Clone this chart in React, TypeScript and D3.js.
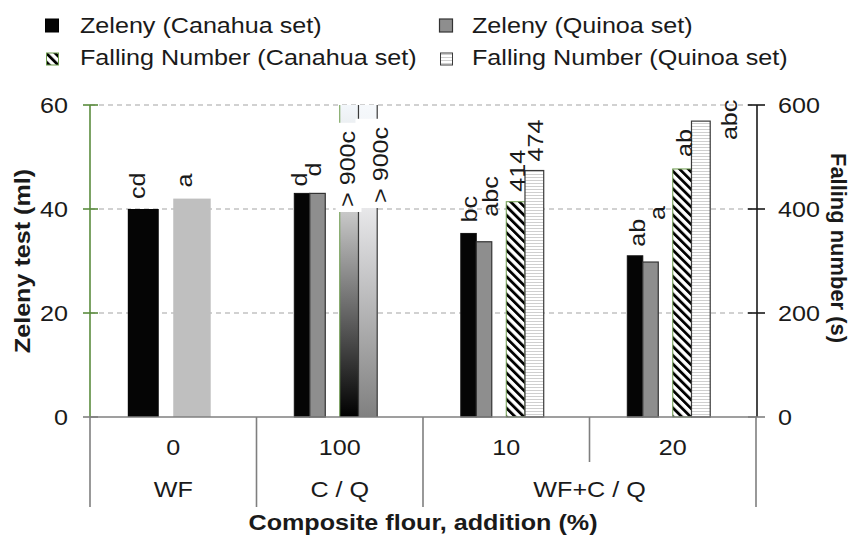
import React from "react";
import * as d3 from "d3";

// ---------- data ----------
const categories = ["0", "100", "10", "20"];
const groupLabels = ["WF", "C / Q", "WF+C / Q"];
const groupSpans = [1, 1, 2]; // number of categories per group

// wheat flour (category "0"): one Zeleny bar and one falling-number bar
const wfZeleny = [40];
const wfFallingNumber = [420];
const wfZelenyLabels = ["cd"];
const wfFallingLabels = ["a"];

// composite flours (categories "100", "10", "20")
const zelenyCanahua = [43, 35.3, 31.0];
const zelenyQuinoa = [43, 33.7, 29.8];
const fallingCanahua = [900, 414, 477];
const fallingQuinoa = [900, 474, 569];
const zelenyCanahuaLabels = ["d", "bc", "ab"];
const zelenyQuinoaLabels = ["d", "abc", "a"];
const fallingCanahuaLabels = ["> 900c", "414", "ab"];
const fallingQuinoaLabels = ["> 900c", "474", "abc"];

const zelenyTicks = [0, 20, 40, 60];
const fallingTicks = [0, 200, 400, 600];

// label nudges [dx from bar centre, rise above bar top] (px)
const wfZNudge = [[2, 10]];
const wfFNudge = [[0, 11]];
const zcNudge = [[4.5, 7], [8.5, 11], [10, 9]];
const zqNudge = [[3.5, 17], [13.5, 25], [14.5, 42]];
const fcNudge = [[5.5, -102], [9, 10], [10, 12]];
const fqNudge = [[20, -98], [9, 9], [36, -19]];

// ---------- layout ----------
const W = 850, H = 539;
const L = 90, R = 756, TOP = 105, BOT = 417;
const FS = 21.5, SX = 1.17;
const TXT = "#1a1a1a";
const FONT = "'Liberation Sans', Arial, sans-serif";

function T({ x, y, rot = 0, anchor = "start", bold = false, children, fill = TXT, sx = SX }: any) {
  return (
    <text
      transform={`translate(${x},${y}) rotate(${rot}) scale(${sx},1)`}
      textAnchor={anchor}
      fontFamily={FONT}
      fontSize={FS}
      fontWeight={bold ? "bold" : "normal"}
      fill={fill}
    >
      {children}
    </text>
  );
}

export default function App() {
  const x0 = d3.scaleBand<string>().domain(categories).range([L, R]).paddingInner(0).paddingOuter(0);
  const bw = x0.bandwidth();
  const inner = d3.scaleLinear().domain([0, 1]).range([0, bw]);
  const zSlot = [inner(0.227), inner(0.413)];
  const fSlot = [inner(0.5), inner(0.725)];
  const yL = d3.scaleLinear().domain([0, 60]).range([BOT, TOP]);
  const yR = d3.scaleLinear().domain([0, 600]).range([BOT, TOP]).clamp(true);

  type Bar = { x: number; w: number; y: number; fill: string; stroke: string; sw: number; label: string; nudge: number[]; off?: boolean };
  const bars: Bar[] = [];

  // WF
  {
    const b = x0(categories[0])!;
    bars.push({ x: b + zSlot[0], w: zSlot[1] - zSlot[0], y: yL(wfZeleny[0]), fill: "#050505", stroke: "none", sw: 0, label: wfZelenyLabels[0], nudge: wfZNudge[0] });
    bars.push({ x: b + fSlot[0], w: fSlot[1] - fSlot[0], y: yR(wfFallingNumber[0]), fill: "#bfbfbf", stroke: "none", sw: 0, label: wfFallingLabels[0], nudge: wfFNudge[0] });
  }
  categories.slice(1).forEach((c, i) => {
    const b = x0(c)!;
    const zw = (zSlot[1] - zSlot[0]) / 2;
    const fw = (fSlot[1] - fSlot[0]) / 2;
    const offC = fallingCanahua[i] > 600;
    const offQ = fallingQuinoa[i] > 600;
    bars.push({ x: b + zSlot[0], w: zw, y: yL(zelenyCanahua[i]), fill: "#050505", stroke: "#111", sw: 1, label: zelenyCanahuaLabels[i], nudge: zcNudge[i] });
    bars.push({ x: b + zSlot[0] + zw, w: zw, y: yL(zelenyQuinoa[i]), fill: "#8e8e8e", stroke: "#333", sw: 1.2, label: zelenyQuinoaLabels[i], nudge: zqNudge[i] });
    bars.push({ x: b + fSlot[0], w: fw, y: yR(fallingCanahua[i]), fill: offC ? "url(#gradC)" : "url(#hatch)", stroke: "#6b9a4b", sw: 1, label: fallingCanahuaLabels[i], nudge: fcNudge[i], off: offC });
    bars.push({ x: b + fSlot[0] + fw, w: fw, y: yR(fallingQuinoa[i]), fill: offQ ? "url(#gradQ)" : "url(#stripe)", stroke: "#3a3a3a", sw: 1.2, label: fallingQuinoaLabels[i], nudge: fqNudge[i], off: offQ });
  });

  // group separators
  const bounds: { x: number; long: boolean }[] = [{ x: L, long: true }];
  let acc = 0;
  groupSpans.forEach((s) => {
    for (let k = 1; k < s; k++) bounds.push({ x: x0(categories[acc + k])!, long: false });
    acc += s;
    bounds.push({ x: acc < categories.length ? x0(categories[acc])! : R, long: true });
  });
  const groupCenters: number[] = [];
  acc = 0;
  groupSpans.forEach((s) => {
    const a = x0(categories[acc])!;
    const e = x0(categories[acc + s - 1])! + bw;
    groupCenters.push((a + e) / 2);
    acc += s;
  });

  const labelLen = (s: string) => s.length * FS * 0.505 * SX;

  return (
    <svg width={W} height={H} style={{ position: "absolute", left: 0, top: 0, background: "#fff" }}>
      <defs>
        <pattern id="hatch" patternUnits="userSpaceOnUse" width="6.2" height="6.2" patternTransform="rotate(-45)">
          <rect width="6.2" height="6.2" fill="#fff" />
          <rect width="2.8" height="6.2" fill="#000" />
        </pattern>
        <pattern id="stripe" patternUnits="userSpaceOnUse" width="4" height="3">
          <rect width="4" height="3" fill="#fff" />
          <rect y="0" width="4" height="1" fill="#cfcfcf" />
        </pattern>
        <linearGradient id="gradC" x1="0" y1="0" x2="0" y2="1">
          <stop offset="0" stopColor="#f3f7fb" />
          <stop offset="0.34" stopColor="#c9c9c9" />
          <stop offset="1" stopColor="#000" />
        </linearGradient>
        <linearGradient id="gradQ" x1="0" y1="0" x2="0" y2="1">
          <stop offset="0" stopColor="#f6f9fc" />
          <stop offset="0.33" stopColor="#e8e8ea" />
          <stop offset="1" stopColor="#808080" />
        </linearGradient>
      </defs>

      {/* legend */}
      <rect x={45.5} y={19} width={13} height={13} fill="#050505" stroke="#000" />
      <T x={80} y={33}>Zeleny (Canahua set)</T>
      <rect x={439.5} y={19} width={13} height={13} fill="#8e8e8e" stroke="#333" strokeWidth={1.2} />
      <T x={472} y={33}>Zeleny (Quinoa set)</T>
      <rect x={46.5} y={53} width={12} height={12} fill="url(#hatch)" stroke="#6b9a4b" />
      <T x={80} y={65}>Falling Number (Canahua set)</T>
      <rect x={440.5} y={53} width={12} height={12} fill="url(#stripe)" stroke="#3a3a3a" />
      <T x={472} y={65}>Falling Number (Quinoa set)</T>

      {/* gridlines */}
      {zelenyTicks.filter((t) => t > 0).map((t) => (
        <line key={t} x1={L} x2={R} y1={yL(t)} y2={yL(t)} stroke="#a3a3a3" strokeWidth={1} strokeDasharray="5,4" />
      ))}

      {/* bars */}
      {bars.map((b, i) =>
        b.off ? (
          <g key={i}>
            <rect x={b.x} y={b.y} width={b.w} height={BOT - b.y} fill={b.fill} />
            <line x1={b.x} x2={b.x} y1={b.y} y2={BOT} stroke={b.stroke} strokeWidth={b.sw} />
            <line x1={b.x + b.w} x2={b.x + b.w} y1={b.y} y2={BOT} stroke={b.stroke} strokeWidth={b.sw} />
          </g>
        ) : (
          <rect key={i} x={b.x} y={b.y} width={b.w} height={BOT - b.y} fill={b.fill} stroke={b.stroke} strokeWidth={b.sw} />
        )
      )}

      {/* white boxes behind off-scale labels */}
      {bars.filter((b) => b.off).map((b, i) => {
        const cx = b.x + b.w / 2 + b.nudge[0];
        const ay = b.y - b.nudge[1];
        const len = labelLen(b.label);
        const x1 = Math.min(b.x, cx - 16) - 3;
        const x2 = Math.max(b.x + b.w, cx) + 3;
        return <rect key={"bx" + i} x={x1} y={ay - len - 8} width={x2 - x1} height={len + 13} fill="#fff" />;
      })}

      {/* data labels */}
      {bars.map((b, i) =>
        b.label ? (
          <T key={"l" + i} x={b.x + b.w / 2 + b.nudge[0]} y={b.y - b.nudge[1]} rot={-90}>
            {b.label}
          </T>
        ) : null
      )}

      {/* x axis */}
      <line x1={L} x2={R + 1} y1={BOT} y2={BOT} stroke="#7f7f7f" strokeWidth={1.6} />
      {bounds.map((b, i) => (
        <line key={i} x1={b.x} x2={b.x} y1={BOT} y2={b.long ? 507 : 462} stroke="#7f7f7f" strokeWidth={1.6} />
      ))}
      {categories.map((c) => (
        <T key={c} x={x0(c)! + bw / 2} y={455} anchor="middle">{c}</T>
      ))}
      {groupLabels.map((g, i) => (
        <T key={g} x={groupCenters[i]} y={497} anchor="middle">{g}</T>
      ))}
      <T x={(L + R) / 2} y={530} anchor="middle" bold>Composite flour, addition (%)</T>

      {/* left axis */}
      <line x1={L} x2={L} y1={TOP} y2={BOT} stroke="#5b8c3e" strokeWidth={1.6} />
      {zelenyTicks.map((t) => (
        <g key={t}>
          <line x1={L - 7} x2={L + 8} y1={yL(t)} y2={yL(t)} stroke={t === 0 ? "#7f7f7f" : "#5b8c3e"} strokeWidth={1.6} />
          <T x={68} y={yL(t) + 7.5} anchor="end">{t}</T>
        </g>
      ))}
      <T x={30} y={261} rot={-90} anchor="middle" bold>Zeleny test (ml)</T>

      {/* right axis */}
      <line x1={R + 1} x2={R + 1} y1={TOP} y2={BOT} stroke="#1a1a1a" strokeWidth={1.6} />
      {fallingTicks.map((t) => (
        <g key={t}>
          <line x1={R - 8} x2={R + 9} y1={yR(t)} y2={yR(t)} stroke={t === 0 ? "#7f7f7f" : "#1a1a1a"} strokeWidth={1.6} />
          <T x={778} y={yR(t) + 7.5} anchor="start">{t}</T>
        </g>
      ))}
      <T x={831} y={248} rot={90} anchor="middle" bold sx={1.02}>Falling number (s)</T>
    </svg>
  );
}
